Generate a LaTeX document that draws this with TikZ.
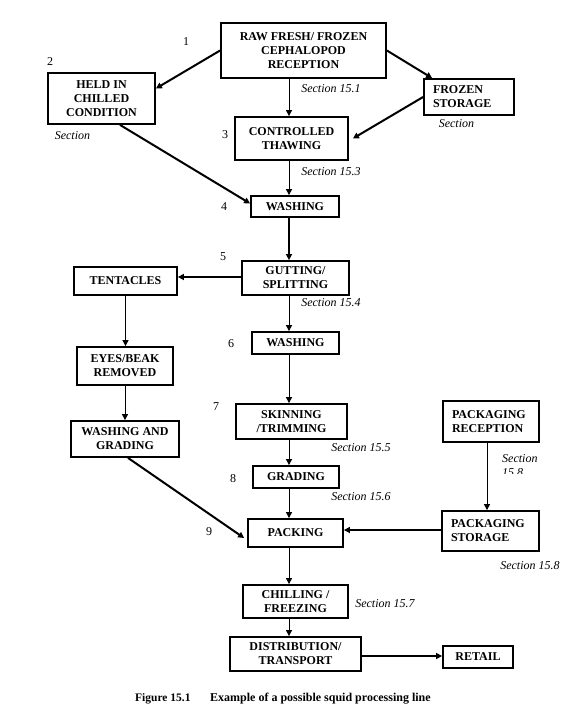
\documentclass[tikz,border=0pt]{standalone}
\usepackage{fontspec}
\setmainfont{Liberation Serif}
\usetikzlibrary{arrows.meta,calc}
\begin{document}
\begin{tikzpicture}[x=1pt,y=-1pt,
  box/.style={draw,line width=1.8pt,inner sep=0pt,align=center,
    font=\bfseries\fontsize{12}{14}\selectfont},
  lbox/.style={box,align=left,text width=#1},
  sec/.style={inner sep=0pt,font=\itshape\fontsize{12}{14}\selectfont},
  num/.style={inner sep=0pt,font=\fontsize{12}{14}\selectfont},
  arr/.style={-{Triangle[length=6pt,width=6pt]},line width=1pt},
  tarr/.style={-{Triangle[length=6pt,width=6pt]},line width=2pt},
]
\useasboundingbox (0,0) rectangle (570,721);
\coordinate (axis) at (289,0);
% boxes
\node[box,minimum width=165pt,minimum height=55pt] (raw) at (303.5,50.5) {RAW FRESH/ FROZEN\\CEPHALOPOD\\RECEPTION};
\node[box,minimum width=107pt,minimum height=51pt] (held) at (101.5,98.5) {HELD IN\\CHILLED\\CONDITION};
\node[lbox=72pt,minimum width=90pt,minimum height=36pt] (frozen) at (469,97) {FROZEN\\STORAGE};
\node[box,minimum width=113pt,minimum height=43pt] (thaw) at (291.5,138.5) {CONTROLLED\\THAWING};
\node[box,minimum width=88pt,minimum height=21pt] (wash1) at (295,206.5) {WASHING};
\node[box,minimum width=107pt,minimum height=34pt] (gut) at (295.5,278) {GUTTING/\\SPLITTING};
\node[box,minimum width=103pt,minimum height=28pt] (tent) at (125.5,281) {TENTACLES};
\node[box,minimum width=87pt,minimum height=22pt] (wash2) at (295.5,343) {WASHING};
\node[box,minimum width=96pt,minimum height=38pt] (eyes) at (125,366) {EYES/BEAK\\REMOVED};
\node[box,minimum width=108pt,minimum height=36pt] (wg) at (125,439) {WASHING AND\\GRADING};
\node[box,minimum width=111pt,minimum height=35pt] (skin) at (291.5,421.5) {SKINNING\\/TRIMMING};
\node[box,minimum width=86pt,minimum height=22pt] (grad) at (296,477) {GRADING};
\node[box,minimum width=95pt,minimum height=28pt] (pack) at (295.5,533) {PACKING};
\node[lbox=78pt,minimum width=96pt,minimum height=41pt] (prec) at (491,421.5) {PACKAGING\\RECEPTION};
\node[lbox=79pt,minimum width=97pt,minimum height=40pt] (pstor) at (490.5,531) {PACKAGING\\STORAGE};
\node[box,minimum width=105pt,minimum height=33pt] (chill) at (295.5,601.5) {CHILLING /\\FREEZING};
\node[box,minimum width=131pt,minimum height=34pt] (dist) at (295.5,654) {DISTRIBUTION/\\TRANSPORT};
\node[box,minimum width=70pt,minimum height=22pt] (retail) at (478,657) {RETAIL};
% labels
\node[num] (n1) at (186,42) {1};
\node[num] (n2) at (50,62) {2};
\node[num] (n3) at (225,135) {3};
\node[num] (n4) at (224,207) {4};
\node[num] (n5) at (223,257) {5};
\node[num] (n6) at (231,344) {6};
\node[num] (n7) at (216,407) {7};
\node[num] (n8) at (233,479) {8};
\node[num] (n9) at (209,532) {9};
\node[sec] (s2) at (72.5,136) {Section};
\node[sec] (s1) at (331,89) {Section 15.1};
\node[sec] (sfz) at (456.5,124) {Section};
\node[sec] (s3) at (331,172) {Section 15.3};
\node[sec] (s4) at (331,303) {Section 15.4};
\node[sec] (s5) at (361,448) {Section 15.5};
\node[sec] (s6) at (361,497) {Section 15.6};
\node[sec] (s8) at (530,566) {Section 15.8};
\node[sec] (s7) at (385,604) {Section 15.7};
\begin{scope}
  \clip (490,440) rectangle (560,473);
  \node[sec,align=left,anchor=north west] (s8b) at (502,454) {Section\\15.8};
\end{scope}
\node[inner sep=0pt,anchor=west,font=\bfseries\fontsize{11.5}{14}\selectfont] (cap1) at (135,699) {Figure 15.1};
\node[inner sep=0pt,anchor=west,font=\bfseries\fontsize{12}{14}\selectfont] (cap2) at (210,699) {Example of a possible squid processing line};
% connectors
\draw[tarr] (raw.west) -- ($(held.east)+(0,-10)$);
\draw[tarr] (raw.east) -- ($(frozen.north west)+(9,0)$);
\draw[tarr] (frozen.west) -- ($(thaw.east)+(4,0)$);
\draw[tarr] ($(held.south)+(18.5,0)$) -- ($(wash1.west)+(0,-3)$);
\draw[arr] (raw.south -| axis) -- (thaw.north -| axis);
\draw[arr] (thaw.south -| axis) -- (wash1.north -| axis);
\draw[tarr] (wash1.south -| axis) -- (gut.north -| axis);
\draw[tarr] (gut.west |- 0,277) -- (tent.east |- 0,277);
\draw[arr] (tent.south) -- (tent.south |- eyes.north);
\draw[arr] (eyes.south) -- (eyes.south |- wg.north);
\draw[tarr] ($(wg.south)+(3,0)$) -- ($(pack.west)+(-3,5)$);
\draw[arr] (gut.south -| axis) -- (wash2.north -| axis);
\draw[arr] (wash2.south -| axis) -- (skin.north -| axis);
\draw[arr] (skin.south -| axis) -- (grad.north -| axis);
\draw[arr] (grad.south -| axis) -- (pack.north -| axis);
\draw[arr] (pack.south -| axis) -- (chill.north -| axis);
\draw[arr] (chill.south -| axis) -- (dist.north -| axis);
\draw[arr] ($(prec.south)+(-4,0)$) -- ($(prec.south |- pstor.north)+(-4,0)$);
\draw[tarr] (pstor.west |- 0,530) -- (pack.east |- 0,530);
\draw[tarr] (dist.east |- 0,656) -- (retail.west |- 0,656);
\end{tikzpicture}
\end{document}
